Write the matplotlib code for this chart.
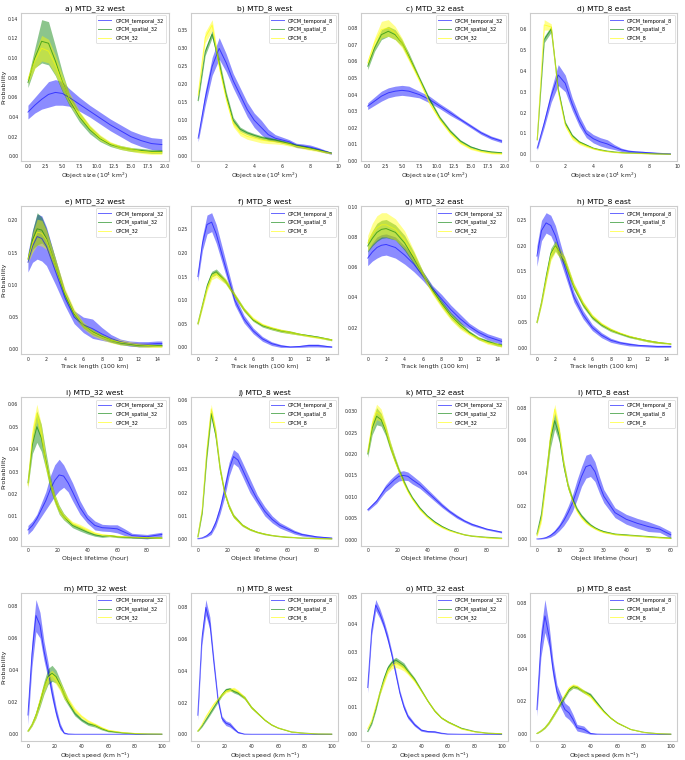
import numpy as np
import matplotlib
matplotlib.use("Agg")
import matplotlib.pyplot as plt
from matplotlib.ticker import MultipleLocator, FormatStrFormatter

# x sampling of the pdfs
SIZE32_X = [0, 1, 2, 3, 4, 5, 6, 7.5, 9, 10.5, 12, 13.5, 15, 16.5, 18, 19.5]
SIZE8_X = [0, 0.5, 1, 1.5, 2, 2.5, 3, 3.5, 4, 4.5, 5, 5.5, 6, 6.5, 7, 7.5, 8, 8.5, 9, 9.5]
TRACK_X = [0, 0.5, 1, 1.5, 2, 3, 4, 5, 6, 7, 8, 9, 10, 11, 12, 13, 14, 14.5]
LIFE_X = [0, 3, 6, 9, 12, 15, 18, 21, 24, 27, 30, 35, 40, 45, 50, 55, 60, 65, 70, 80, 90]
LIFE60_X = [0, 2, 4, 6, 8, 10, 12, 14, 16, 18, 20, 22, 24, 26, 28, 30, 35, 40, 45, 50, 55, 60]
SPEED_X = [0, 3, 6, 9, 12, 15, 18, 21, 24, 27, 30, 35, 40, 45, 50, 55, 60, 70, 80, 90, 100]

# a) object size, MTD_32 west
A_TEMP = [.045, .052, .058, .063, .065, .064, .060, .053, .046, .039, .032, .026, .020, .016, .013, .012]
A_TEMP_ERR = [.007, .008, .010, .013, .013, .012, .009, .007, .006, .006, .006, .006, .006, .006, .006, .006]
A_SPAT = [.075, .100, .117, .115, .097, .076, .058, .040, .027, .018, .012, .009, .007, .006, .005, .005]
A_SPAT_ERR = [.005, .010, .022, .022, .015, .010, .006, .005, .004, .003, .002, .002, .002, .002, .002, .002]
A_CPCM = [.078, .097, .110, .107, .093, .075, .059, .042, .029, .019, .013, .009, .007, .005, .004, .004]
A_CPCM_ERR = [.004, .008, .013, .012, .010, .008, .006, .004, .003, .003, .002, .002, .002, .002, .002, .002]

# b) object size, MTD_8 west
B_TEMP = [.05, .16, .25, .30, .26, .21, .17, .13, .10, .08, .06, .05, .045, .04, .03, .028, .025, .02, .014, .008]
B_TEMP_ERR = [.01, .02, .025, .03, .025, .02, .02, .02, .02, .02, .015, .01, .008, .006, .006, .006, .006, .005, .004, .003]
B_SPAT = [.155, .29, .34, .26, .17, .10, .075, .065, .058, .052, .048, .045, .04, .035, .03, .026, .022, .018, .013, .009]
B_SPAT_ERR = [.005, .01, .01, .012, .01, .008, .006, .005, .005, .005, .005, .004, .004, .004, .004, .004, .003, .003, .003, .002]
B_CPCM = [.17, .33, .365, .25, .16, .09, .065, .055, .05, .045, .042, .04, .037, .033, .028, .024, .02, .016, .012, .008]
B_CPCM_ERR = [.01, .015, .015, .012, .01, .008, .008, .008, .008, .008, .007, .006, .005, .005, .004, .004, .004, .003, .003, .002]

# c) object size, MTD_32 east
C_TEMP = [.033, .036, .039, .041, .042, .0425, .042, .040, .037, .033, .029, .025, .021, .017, .014, .012]
C_TEMP_ERR = [.002, .0025, .003, .003, .003, .003, .003, .002, .002, .0015, .0015, .001, .001, .001, .001, .001]
C_SPAT = [.057, .068, .076, .078, .076, .071, .063, .050, .037, .026, .018, .012, .0085, .0065, .0055, .005]
C_SPAT_ERR = [.002, .002, .003, .003, .003, .002, .002, .001, .001, .001, .001, .0008, .0006, .0005, .0005, .0005]
C_CPCM = [.059, .071, .079, .080, .077, .071, .062, .049, .035, .025, .017, .011, .0075, .0058, .0048, .0045]
C_CPCM_ERR = [.002, .003, .005, .005, .004, .003, .002, .0015, .0012, .001, .001, .0008, .0006, .0005, .0005, .0005]

# d) object size, MTD_8 east
D_TEMP = [.03, .15, .28, .38, .34, .24, .16, .10, .075, .06, .05, .035, .022, .015, .012, .01, .008, .006, .004, .003]
D_TEMP_ERR = [.01, .02, .03, .05, .04, .03, .025, .02, .02, .02, .02, .012, .008, .006, .005, .005, .004, .003, .002, .002]
D_SPAT = [.07, .55, .60, .31, .15, .09, .06, .045, .03, .022, .016, .012, .009, .007, .006, .005, .004, .003, .002, .001]
D_SPAT_ERR = [.005, .015, .015, .01, .008, .006, .005, .004, .003, .003, .002, .002, .002, .001, .001, .001, .001, .001, .001, .001]
D_CPCM = [.07, .62, .61, .30, .14, .08, .055, .04, .028, .02, .014, .01, .008, .006, .005, .004, .003, .002, .002, .001]
D_CPCM_ERR = [.005, .025, .015, .01, .01, .01, .008, .006, .004, .003, .002, .002, .002, .001, .001, .001, .001, .001, .001, .001]

# e) track length, MTD_32 west
E_TEMP = [.135, .160, .175, .172, .160, .120, .080, .050, .038, .032, .024, .017, .012, .009, .008, .008, .009, .009]
E_TEMP_ERR = [.015, .025, .035, .035, .030, .020, .012, .010, .012, .015, .010, .006, .004, .004, .004, .004, .004, .004]
E_SPAT = [.140, .170, .187, .185, .172, .130, .085, .055, .037, .027, .020, .014, .010, .008, .006, .006, .006, .006]
E_SPAT_ERR = [.005, .015, .025, .020, .015, .010, .006, .005, .004, .004, .003, .003, .003, .002, .002, .002, .002, .002]
E_CPCM = [.140, .165, .182, .180, .170, .130, .088, .057, .037, .026, .019, .014, .011, .009, .007, .006, .005, .005]
E_CPCM_ERR = [.006, .015, .020, .020, .015, .010, .007, .006, .005, .005, .004, .004, .004, .003, .003, .003, .002, .002]

# f) track length, MTD_8 west
F_TEMP = [.150, .220, .260, .265, .240, .170, .100, .060, .035, .018, .008, .003, .001, .002, .004, .004, .002, .001]
F_TEMP_ERR = [.010, .015, .020, .020, .020, .015, .010, .008, .006, .005, .004, .003, .002, .002, .003, .003, .002, .002]
F_SPAT = [.050, .090, .130, .155, .160, .140, .110, .080, .058, .046, .040, .035, .032, .028, .025, .022, .018, .016]
F_SPAT_ERR = [.003, .005, .006, .006, .006, .005, .004, .004, .003, .003, .003, .003, .003, .002, .002, .002, .002, .002]
F_CPCM = [.050, .088, .125, .150, .155, .140, .110, .080, .060, .048, .041, .036, .032, .028, .024, .021, .018, .016]
F_CPCM_ERR = [.004, .006, .007, .007, .007, .006, .005, .004, .004, .003, .003, .003, .003, .002, .002, .002, .002, .002]

# g) track length, MTD_32 east
G_TEMP = [.066, .070, .073, .0745, .075, .073, .068, .062, .054, .046, .039, .032, .026, .021, .017, .014, .012, .011]
G_TEMP_ERR = [.005, .006, .007, .007, .007, .007, .006, .005, .003, .002, .003, .003, .003, .002, .002, .002, .002, .002]
G_SPAT = [.074, .079, .083, .085, .0855, .083, .076, .066, .055, .045, .036, .028, .022, .017, .013, .011, .009, .0085]
G_SPAT_ERR = [.004, .005, .006, .006, .006, .005, .005, .004, .002, .002, .002, .002, .002, .001, .001, .001, .001, .001]
G_CPCM = [.076, .082, .086, .088, .088, .085, .078, .067, .055, .044, .035, .027, .021, .016, .013, .010, .009, .008]
G_CPCM_ERR = [.005, .007, .008, .008, .008, .007, .006, .004, .002, .002, .002, .002, .002, .001, .001, .001, .001, .001]

# h) track length, MTD_8 east
H_TEMP = [.180, .230, .245, .240, .220, .160, .100, .065, .040, .025, .015, .010, .007, .005, .004, .003, .003, .003]
H_TEMP_ERR = [.020, .020, .020, .020, .020, .015, .010, .008, .006, .005, .004, .003, .003, .002, .002, .002, .002, .002]
H_SPAT = [.050, .090, .140, .185, .200, .170, .120, .085, .060, .045, .035, .028, .022, .018, .014, .011, .009, .008]
H_SPAT_ERR = [.003, .005, .008, .010, .010, .008, .006, .005, .004, .003, .003, .002, .002, .002, .002, .002, .001, .001]
H_CPCM = [.050, .088, .135, .180, .198, .172, .122, .087, .062, .047, .036, .029, .023, .018, .014, .011, .009, .008]
H_CPCM_ERR = [.003, .005, .008, .010, .010, .008, .006, .005, .004, .003, .003, .002, .002, .002, .002, .002, .001, .001]

# i) lifetime, MTD_32 west
I_TEMP = [.004, .006, .009, .013, .017, .022, .026, .0285, .028, .025, .021, .014, .009, .006, .005, .0048, .0045, .003, .0015, .001, .002]
I_TEMP_ERR = [.002, .002, .002, .003, .004, .006, .007, .007, .005, .004, .004, .003, .002, .002, .0015, .0015, .0018, .0015, .001, .001, .001]
I_SPAT = [.025, .042, .050, .045, .035, .025, .018, .013, .010, .008, .006, .0045, .003, .0018, .0012, .0015, .001, .0008, .0006, .0005, .0005]
I_SPAT_ERR = [.002, .004, .007, .006, .004, .003, .002, .002, .0015, .0012, .001, .001, .0008, .0006, .0005, .0005, .0004, .0004, .0003, .0003, .0003]
I_CPCM = [.024, .046, .056, .047, .034, .025, .018, .013, .010, .0085, .0068, .0055, .004, .0025, .0018, .0015, .0012, .001, .0008, .0006, .0005]
I_CPCM_ERR = [.002, .004, .004, .004, .003, .002, .002, .0015, .0012, .001, .001, .001, .0008, .0006, .0005, .0005, .0004, .0004, .0003, .0003, .0003]

# j) lifetime, MTD_8 west
J_TEMP = [.0002, .0006, .0015, .003, .007, .013, .021, .030, .0355, .034, .030, .023, .017, .012, .0085, .006, .0045, .003, .002, .001, .0005]
J_TEMP_ERR = [.0001, .0002, .0005, .001, .0015, .002, .003, .003, .003, .003, .003, .003, .002, .002, .0015, .0012, .001, .0008, .0006, .0004, .0003]
J_SPAT = [.001, .012, .036, .054, .045, .030, .020, .014, .010, .008, .006, .0042, .003, .0022, .0016, .0012, .0009, .0007, .0005, .0003, .0002]
J_SPAT_ERR = [.0005, .001, .002, .002, .002, .0015, .001, .001, .0008, .0006, .0005, .0004, .0003, .0003, .0002, .0002, .0002, .0001, .0001, .0001, .0001]
J_CPCM = [.001, .013, .038, .056, .046, .030, .020, .014, .010, .0078, .006, .0042, .003, .0022, .0016, .0012, .0009, .0007, .0005, .0003, .0002]
J_CPCM_ERR = [.0005, .001, .002, .002, .002, .0015, .001, .001, .0008, .0006, .0005, .0004, .0003, .0003, .0002, .0002, .0002, .0001, .0001, .0001, .0001]

# k) lifetime, MTD_32 east
K_TEMP = [.007, .008, .009, .0105, .012, .013, .014, .0148, .015, .0148, .014, .0128, .0112, .0096, .008, .0066, .0054, .0044, .0036, .0025, .0018]
K_TEMP_ERR = [.0003, .0004, .0005, .0006, .0008, .001, .001, .0011, .0011, .001, .001, .0008, .0007, .0006, .0005, .0004, .0004, .0003, .0003, .0002, .0002]
K_SPAT = [.020, .026, .0288, .028, .0255, .022, .019, .0162, .0138, .0116, .0098, .0074, .0056, .0042, .0031, .0023, .0017, .0012, .0009, .0006, .0004]
K_SPAT_ERR = [.0008, .0015, .002, .0015, .0012, .001, .0008, .0006, .0005, .0004, .0003, .0003, .0002, .0002, .0002, .0001, .0001, .0001, .0001, .0001, .0001]
K_CPCM = [.0205, .027, .0298, .029, .026, .0222, .0188, .016, .0135, .0113, .0095, .0071, .0053, .0039, .0029, .0021, .0016, .0012, .0009, .0005, .0003]
K_CPCM_ERR = [.0008, .0015, .0018, .0015, .0012, .001, .0008, .0006, .0005, .0004, .0003, .0003, .0002, .0002, .0002, .0001, .0001, .0001, .0001, .0001, .0001]

# l) lifetime, MTD_8 east
L_TEMP = [.0, .0002, .0008, .002, .004, .007, .011, .016, .022, .030, .038, .044, .045, .041, .033, .026, .016, .012, .0095, .0075, .006, .0025]
L_TEMP_ERR = [.0002, .0003, .0005, .001, .0015, .002, .003, .004, .005, .006, .006, .007, .007, .006, .005, .004, .003, .003, .003, .003, .002, .002]
L_SPAT = [.003, .015, .037, .060, .072, .063, .045, .032, .024, .018, .014, .011, .0085, .0068, .0055, .0045, .003, .0025, .002, .0015, .001, .0006]
L_SPAT_ERR = [.001, .002, .003, .005, .005, .004, .003, .002, .0015, .0012, .001, .001, .0008, .0006, .0005, .0005, .0004, .0004, .0003, .0003, .0003, .0003]
L_CPCM = [.002, .012, .035, .062, .079, .066, .046, .032, .023, .017, .013, .010, .008, .0063, .005, .004, .0028, .0022, .0018, .0012, .0008, .0005]
L_CPCM_ERR = [.001, .002, .003, .004, .003, .003, .002, .0015, .0012, .001, .001, .0008, .0006, .0005, .0005, .0004, .0004, .0003, .0003, .0003, .0003, .0003]

# m) speed, MTD_32 west
M_TEMP = [.012, .050, .074, .068, .052, .040, .026, .014, .005, .0008, .0002, 0, 0, 0, 0, 0, 0, 0, 0, 0, 0]
M_TEMP_ERR = [.006, .008, .010, .008, .006, .005, .004, .003, .002, .0005, .0002, .0001, .0001, .0001, .0001, .0001, .0001, .0001, .0001, .0001, .0001]
M_SPAT = [.002, .006, .012, .020, .029, .036, .038, .036, .031, .025, .020, .013, .009, .0065, .0055, .0035, .002, .001, .0004, .0002, .0001]
M_SPAT_ERR = [.0005, .001, .002, .003, .004, .005, .005, .004, .003, .003, .002, .0015, .001, .001, .001, .0008, .0005, .0003, .0002, .0001, .0001]
M_CPCM = [.002, .006, .012, .021, .029, .035, .037, .034, .030, .025, .021, .015, .011, .008, .006, .004, .0025, .0012, .0005, .0002, .0001]
M_CPCM_ERR = [.0005, .001, .002, .003, .003, .003, .003, .003, .003, .003, .002, .0015, .001, .001, .001, .0008, .0005, .0003, .0002, .0001, .0001]

# n) speed, MTD_8 west
N_TEMP = [.012, .060, .080, .070, .045, .022, .010, .007, .006, .0035, .0012, .0001, 0, 0, 0, 0, 0, 0, 0, 0, 0]
N_TEMP_ERR = [.003, .004, .005, .004, .003, .002, .0015, .0015, .0015, .001, .0005, .0001, .0001, .0001, .0001, .0001, .0001, .0001, .0001, .0001, .0001]
N_SPAT = [.002, .005, .009, .013, .017, .021, .025, .028, .0285, .027, .026, .023, .017, .013, .009, .006, .004, .0015, .0007, .0002, .0001]
N_SPAT_ERR = [.0003, .0005, .0008, .001, .001, .001, .001, .001, .001, .001, .001, .001, .0008, .0006, .0005, .0004, .0003, .0002, .0001, .0001, .0001]
N_CPCM = [.002, .006, .011, .015, .019, .022, .025, .027, .028, .0285, .027, .023, .017, .013, .009, .006, .004, .0015, .0006, .0002, .0001]
N_CPCM_ERR = [.0003, .0005, .0008, .001, .001, .001, .001, .001, .001, .0012, .001, .001, .0008, .0006, .0005, .0004, .0003, .0002, .0001, .0001, .0001]

# o) speed, MTD_32 east
O_TEMP = [.017, .038, .047, .044, .040, .035, .029, .022, .015, .010, .0065, .0035, .0015, .001, .0009, .0004, .0001, 0, 0, 0, 0]
O_TEMP_ERR = [.002, .002, .002, .0018, .0015, .0015, .0012, .0012, .001, .001, .0008, .0006, .0004, .0003, .0003, .0002, .0001, .0001, .0001, .0001, .0001]
O_SPAT = [.001, .004, .009, .015, .020, .024, .026, .027, .026, .025, .023, .020, .016, .012, .0085, .006, .0045, .0022, .001, .0004, .0002]
O_SPAT_ERR = [.0002, .0004, .0006, .0008, .001, .001, .001, .001, .001, .001, .0008, .0006, .0005, .0004, .0004, .0003, .0003, .0002, .0001, .0001, .0001]
O_CPCM = [.002, .005, .010, .015, .019, .023, .025, .0255, .025, .024, .0225, .0195, .0158, .012, .0085, .006, .0045, .002, .0009, .0004, .0002]
O_CPCM_ERR = [.0003, .0005, .0007, .0008, .001, .001, .0012, .0012, .0012, .001, .0008, .0006, .0005, .0004, .0004, .0003, .0003, .0002, .0001, .0001, .0001]

# p) speed, MTD_8 east
P_TEMP = [.015, .055, .072, .060, .040, .026, .020, .015, .013, .009, .004, .003, .0005, .0001, 0, 0, 0, 0, 0, 0, 0]
P_TEMP_ERR = [.004, .008, .010, .007, .005, .004, .004, .004, .004, .003, .002, .002, .0005, .0001, .0001, .0001, .0001, .0001, .0001, .0001, .0001]
P_SPAT = [.0005, .002, .004, .007, .011, .015, .019, .023, .027, .029, .0285, .026, .024, .019, .014, .010, .007, .003, .0012, .0004, .0001]
P_SPAT_ERR = [.0002, .0003, .0005, .0007, .001, .001, .001, .001, .001, .001, .001, .001, .001, .0008, .0006, .0005, .0004, .0002, .0001, .0001, .0001]
P_CPCM = [.0005, .002, .004, .007, .011, .015, .020, .024, .028, .0295, .029, .026, .023, .018, .0135, .010, .007, .003, .0011, .0004, .0001]
P_CPCM_ERR = [.0002, .0003, .0005, .0007, .001, .001, .001, .0012, .0012, .0012, .001, .001, .001, .0008, .0006, .0005, .0004, .0002, .0001, .0001, .0001]

SIZE_LABEL = 'Object size (10$^4$ km$^2$)'
TRACK_LABEL = 'Track length (100 km)'
LIFE_LABEL = 'Object lifetime (hour)'
SPEED_LABEL = 'Object speed (km h$^{-1}$)'

# title, x, data, resolution, xlabel, xtick step, xtick fmt, ytick step, ytick fmt
panels = [
    ('a) MTD_32 west', SIZE32_X, (A_TEMP, A_TEMP_ERR, A_SPAT, A_SPAT_ERR, A_CPCM, A_CPCM_ERR), '32', SIZE_LABEL, 2.5, '%.1f', 0.02, '%.2f'),
    ('b) MTD_8 west', SIZE8_X, (B_TEMP, B_TEMP_ERR, B_SPAT, B_SPAT_ERR, B_CPCM, B_CPCM_ERR), '8', SIZE_LABEL, 2, '%d', 0.05, '%.2f'),
    ('c) MTD_32 east', SIZE32_X, (C_TEMP, C_TEMP_ERR, C_SPAT, C_SPAT_ERR, C_CPCM, C_CPCM_ERR), '32', SIZE_LABEL, 2.5, '%.1f', 0.01, '%.2f'),
    ('d) MTD_8 east', SIZE8_X, (D_TEMP, D_TEMP_ERR, D_SPAT, D_SPAT_ERR, D_CPCM, D_CPCM_ERR), '8', SIZE_LABEL, 2, '%d', 0.1, '%.1f'),
    ('e) MTD_32 west', TRACK_X, (E_TEMP, E_TEMP_ERR, E_SPAT, E_SPAT_ERR, E_CPCM, E_CPCM_ERR), '32', TRACK_LABEL, 2, '%d', 0.05, '%.2f'),
    ('f) MTD_8 west', TRACK_X, (F_TEMP, F_TEMP_ERR, F_SPAT, F_SPAT_ERR, F_CPCM, F_CPCM_ERR), '8', TRACK_LABEL, 2, '%d', 0.05, '%.2f'),
    ('g) MTD_32 east', TRACK_X, (G_TEMP, G_TEMP_ERR, G_SPAT, G_SPAT_ERR, G_CPCM, G_CPCM_ERR), '32', TRACK_LABEL, 2, '%d', 0.02, '%.2f'),
    ('h) MTD_8 east', TRACK_X, (H_TEMP, H_TEMP_ERR, H_SPAT, H_SPAT_ERR, H_CPCM, H_CPCM_ERR), '8', TRACK_LABEL, 2, '%d', 0.05, '%.2f'),
    ('i) MTD_32 west', LIFE_X, (I_TEMP, I_TEMP_ERR, I_SPAT, I_SPAT_ERR, I_CPCM, I_CPCM_ERR), '32', LIFE_LABEL, 20, '%d', 0.01, '%.2f'),
    ('j) MTD_8 west', LIFE_X, (J_TEMP, J_TEMP_ERR, J_SPAT, J_SPAT_ERR, J_CPCM, J_CPCM_ERR), '8', LIFE_LABEL, 20, '%d', 0.01, '%.2f'),
    ('k) MTD_32 east', LIFE_X, (K_TEMP, K_TEMP_ERR, K_SPAT, K_SPAT_ERR, K_CPCM, K_CPCM_ERR), '32', LIFE_LABEL, 20, '%d', 0.005, '%.3f'),
    ('l) MTD_8 east', LIFE60_X, (L_TEMP, L_TEMP_ERR, L_SPAT, L_SPAT_ERR, L_CPCM, L_CPCM_ERR), '8', LIFE_LABEL, 10, '%d', 0.02, '%.2f'),
    ('m) MTD_32 west', SPEED_X, (M_TEMP, M_TEMP_ERR, M_SPAT, M_SPAT_ERR, M_CPCM, M_CPCM_ERR), '32', SPEED_LABEL, 20, '%d', 0.02, '%.2f'),
    ('n) MTD_8 west', SPEED_X, (N_TEMP, N_TEMP_ERR, N_SPAT, N_SPAT_ERR, N_CPCM, N_CPCM_ERR), '8', SPEED_LABEL, 20, '%d', 0.02, '%.2f'),
    ('o) MTD_32 east', SPEED_X, (O_TEMP, O_TEMP_ERR, O_SPAT, O_SPAT_ERR, O_CPCM, O_CPCM_ERR), '32', SPEED_LABEL, 20, '%d', 0.01, '%.2f'),
    ('p) MTD_8 east', SPEED_X, (P_TEMP, P_TEMP_ERR, P_SPAT, P_SPAT_ERR, P_CPCM, P_CPCM_ERR), '8', SPEED_LABEL, 20, '%d', 0.02, '%.2f'),
]

SERIES_COLORS = ['blue', 'green', 'yellow']
SERIES_NAMES = ['CPCM_temporal_{}', 'CPCM_spatial_{}', 'CPCM_{}']

LEFTS = [0.031, 0.279, 0.527, 0.774]
BOTTOMS = [0.788, 0.534, 0.282, 0.025]
AX_W, AX_H = 0.215, 0.195

plt.rcParams['font.family'] = 'DejaVu Sans'
plt.rcParams['axes.edgecolor'] = '0.8'
plt.rcParams['axes.linewidth'] = 0.8

fig = plt.figure(figsize=(6.85, 7.6), dpi=100)

for idx, (title, x, data, res, xlabel, xstep, xfmt, ystep, yfmt) in enumerate(panels):
    row, col = divmod(idx, 4)
    ax = fig.add_axes([LEFTS[col], BOTTOMS[row], AX_W, AX_H])
    x = np.array(x)
    for k in range(3):
        mean = np.array(data[2 * k])
        err = np.array(data[2 * k + 1])
        color = SERIES_COLORS[k]
        ax.fill_between(x, np.clip(mean - err, 0, None), mean + err,
                        color=color, alpha=0.45, linewidth=0)
        ax.plot(x, mean, color=color, alpha=0.6, lw=0.7,
                label=SERIES_NAMES[k].format(res))

    ax.set_title(title, fontsize=5.4, pad=2)
    ax.set_xlabel(xlabel, fontsize=4.4, labelpad=1.5, color='0.15')
    if col == 0:
        ax.set_ylabel('Probability', fontsize=4.6, labelpad=1.5, color='0.15')
    ax.xaxis.set_major_locator(MultipleLocator(xstep))
    ax.xaxis.set_major_formatter(FormatStrFormatter(xfmt))
    ax.yaxis.set_major_locator(MultipleLocator(ystep))
    ax.yaxis.set_major_formatter(FormatStrFormatter(yfmt))
    if xlabel == SIZE_LABEL and res == '8':
        ax.set_xlim(-0.5, 10.0)
    ax.tick_params(length=0, labelsize=3.3, pad=2, labelcolor='0.15')
    ax.grid(linewidth=0)
    leg = ax.legend(loc='upper right', fontsize=3.6, handlelength=2.6,
                    borderpad=0.5, labelspacing=0.6, framealpha=0.8)
    leg.get_frame().set_edgecolor('0.8')
    leg.get_frame().set_linewidth(0.5)

fig.savefig('out.png', dpi=100)
